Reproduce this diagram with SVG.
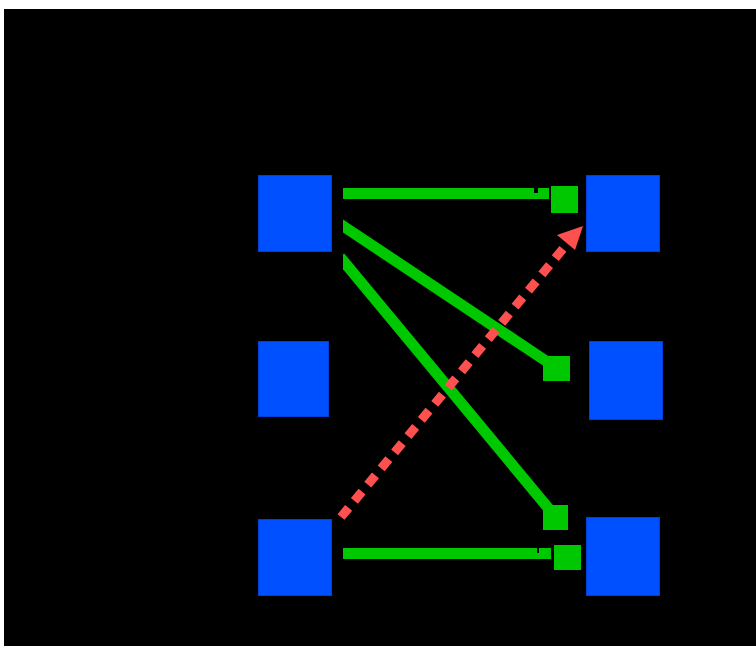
<svg xmlns="http://www.w3.org/2000/svg" width="756" height="646" viewBox="0 0 756 646">
<style>
.node{fill:#0050FF;stroke:#0040D8;stroke-width:1}
.g{stroke:#00C800;stroke-width:11;fill:none;stroke-linecap:butt}
.gh{fill:#00C800}
.r{stroke:#FF5050;stroke-width:9;fill:none;stroke-dasharray:12 9}
.rh{fill:#FF5050}
</style>
<defs>
<clipPath id="cl"><rect x="343" y="0" width="413" height="646"/></clipPath>
</defs>
<rect x="0" y="0" width="756" height="646" fill="#ffffff"/>
<rect x="4" y="9" width="752" height="637" fill="#000000"/>
<g id="nodeA"><rect class="node" x="258.5" y="175.5" width="73" height="76"/></g>
<g id="nodeB"><rect class="node" x="258.5" y="341.5" width="70" height="75"/></g>
<g id="nodeC"><rect class="node" x="258.5" y="519.5" width="73" height="76"/></g>
<g id="nodeD"><rect class="node" x="586.5" y="175.5" width="73" height="76"/></g>
<g id="nodeE"><rect class="node" x="589.5" y="341.5" width="73" height="78"/></g>
<g id="nodeF"><rect class="node" x="586.5" y="517.5" width="73" height="78"/></g>
<g id="connectors">
<g clip-path="url(#cl)">
<line class="g" x1="343" y1="193.5" x2="549" y2="193.5"/>
<line class="g" x1="340" y1="224" x2="546" y2="361"/>
<line class="g" x1="340" y1="257" x2="549" y2="509"/>
<line class="g" x1="343" y1="553.5" x2="551" y2="553.5"/>
</g>
<rect x="534" y="188" width="4" height="5" fill="#000"/>
<rect x="537" y="547" width="2" height="6" fill="#000"/>
<rect class="gh" x="551" y="186" width="27" height="27"/>
<rect class="gh" x="543" y="356" width="27" height="25"/>
<rect class="gh" x="543" y="505" width="25" height="25"/>
<rect class="gh" x="554" y="545" width="27" height="25"/>
<line class="r" x1="341" y1="517" x2="567" y2="244"/>
<polygon class="rh" points="583,226 557,235 575,250"/>
</g>
</svg>
